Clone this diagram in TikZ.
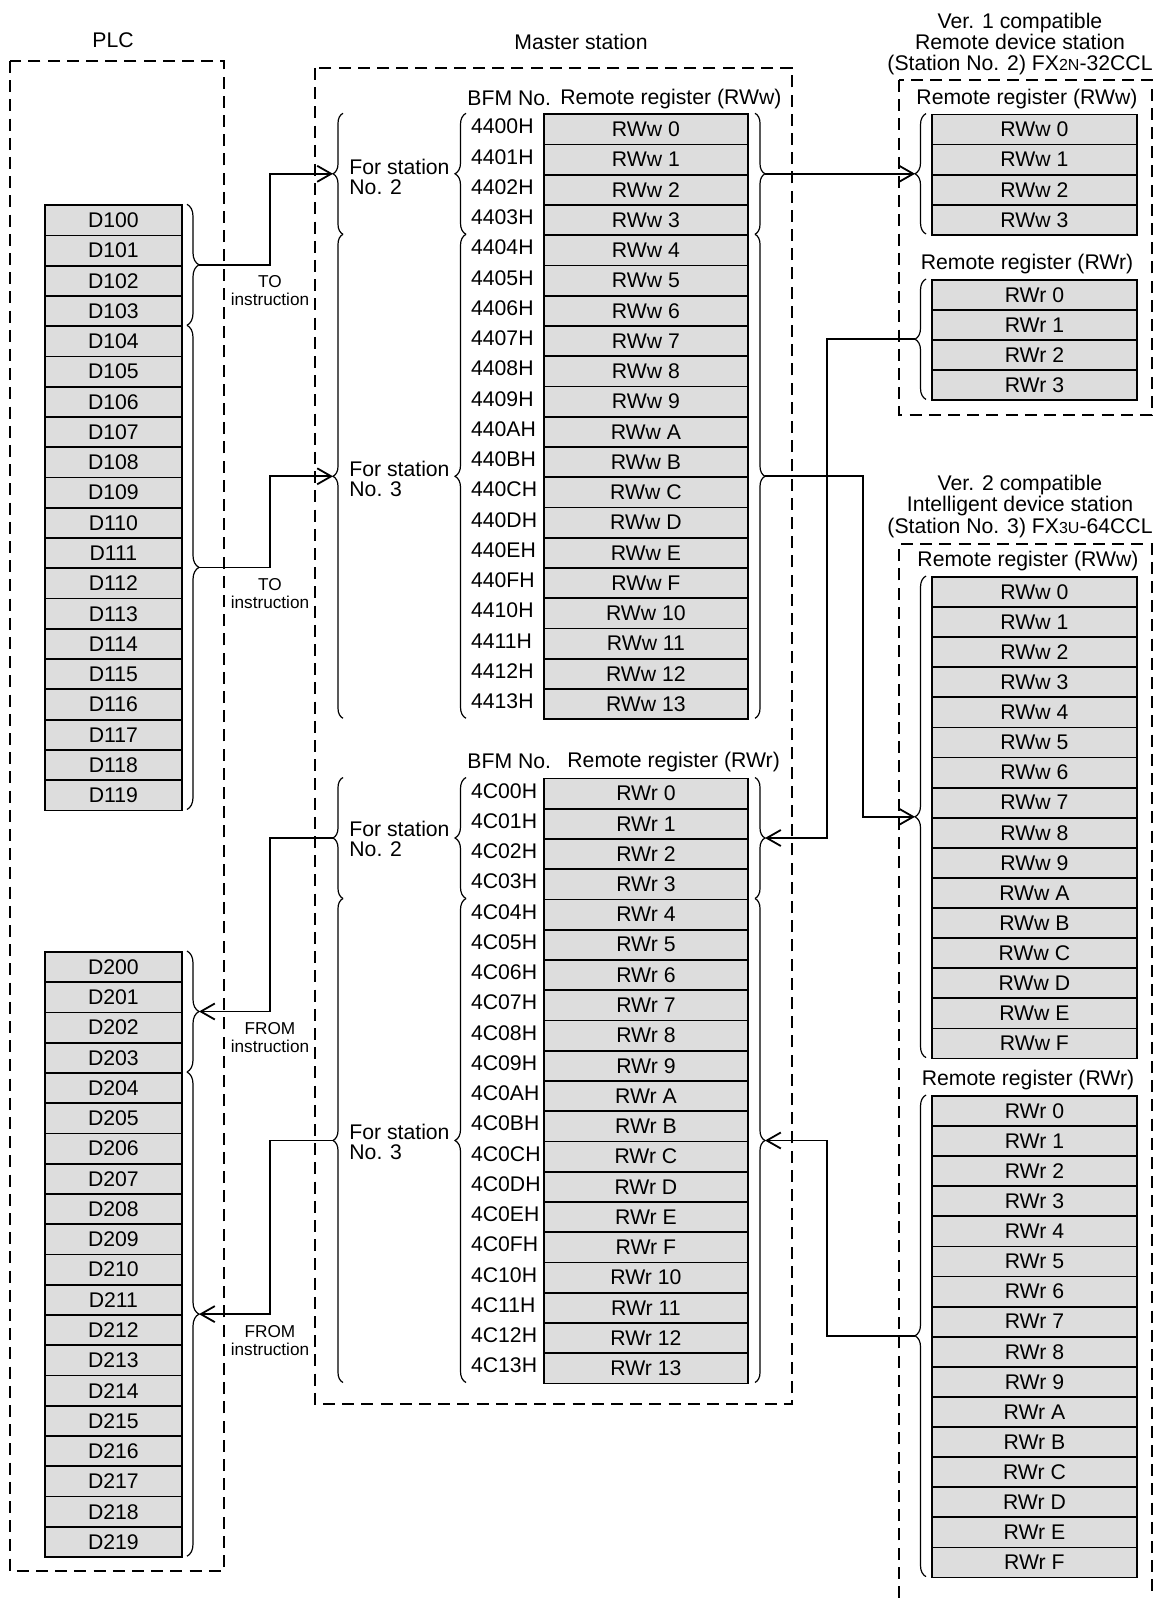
\documentclass[tikz,border=0pt]{standalone}
\usepackage{fontspec}
\setmainfont{Liberation Sans}
\usetikzlibrary{arrows.meta, positioning, calc, decorations.pathreplacing}
\definecolor{CellGray}{RGB}{221,221,221}

\begin{document}
\begin{tikzpicture}[
    x=0.5pt, y=-0.5pt,
    every node/.style={font=\fontsize{10.6}{10.4}\selectfont, inner sep=0pt},
    reg/.style={draw, line width=0.9pt, fill=CellGray, anchor=north west, minimum height=15.13pt},
    dreg/.style={reg, minimum width=68.5pt},
    mreg/.style={reg, minimum width=102pt},
    sreg/.style={reg, minimum width=102.5pt, minimum height=15.05pt},
    bfm/.style={anchor=west},
    note/.style={font=\fontsize{8.6}{9}\selectfont, align=center},
    stitle/.style={align=center, font=\fontsize{10.6}{10.7}\selectfont},
    zone/.style={dash pattern=on 6pt off 3.6pt, line width=0.8pt},
    brc/.style={decorate, decoration={brace, amplitude=#1}, line width=0.6pt},
    brc/.default=5pt,
    link/.style={line width=0.9pt, -{Straight Barb[length=7pt, width=8pt]}}
]
\useasboundingbox (0,0) rectangle (1156,1598);

% dashed outlines
\draw[zone] (10,61) rectangle (224,1571);
\draw[zone] (315,68) rectangle (792,1404);
\draw[zone] (899,80) rectangle (1152,415);
\draw[zone] (899,1598) -- (899,544) -- (1152,544) -- (1152,1598);

% titles
\node (plc) at (113,40) {PLC};
\node (master) at (581,42) {Master station};
\node[stitle] (ver1) at (1020,44) {Ver. 1 compatible\\Remote device station\\(Station No. 2) FX{\fontsize{8}{8}\selectfont 2N}-32CCL};
\node[stitle] (ver2) at (1020,506.5) {Ver. 2 compatible\\Intelligent device station\\(Station No. 3) FX{\fontsize{8}{8}\selectfont 3U}-64CCL};

% PLC data registers
\foreach \i in {0,...,19} {
  \pgfmathtruncatemacro\n{100+\i}
  \node[dreg] (d\n) at (44,{204.3+30.26*\i}) {D\n};
}
\foreach \i in {0,...,19} {
  \pgfmathtruncatemacro\n{200+\i}
  \node[dreg] (d\n) at (44,{951+30.26*\i}) {D\n};
}

% master station buffer memory
\node[bfm] (bfmw) at (467,98) {BFM No.};
\node[bfm] (hdrw) at (560,99) {Remote register (RWw)};
\foreach \h/\b [count=\i from 0] in {0/00,1/01,2/02,3/03,4/04,5/05,6/06,7/07,8/08,9/09,A/0A,B/0B,C/0C,D/0D,E/0E,F/0F,10/10,11/11,12/12,13/13} {
  \node[mreg] (mw\i) at (543,{113.3+30.25*\i}) {RWw \h};
  \node[bfm] (bw\i) at (470.7,{126.5+30.25*\i}) {44\b H};
}
\node[bfm] (bfmr) at (467,761) {BFM No.};
\node[bfm] (hdrr) at (567,762) {Remote register (RWr)};
\foreach \h/\b [count=\i from 0] in {0/00,1/01,2/02,3/03,4/04,5/05,6/06,7/07,8/08,9/09,A/0A,B/0B,C/0C,D/0D,E/0E,F/0F,10/10,11/11,12/12,13/13} {
  \node[mreg] (mr\i) at (543,{777.5+30.25*\i}) {RWr \h};
  \node[bfm] (br\i) at (470.7,{790.7+30.25*\i}) {4C\b H};
}
\node[bfm, align=left] (st2w) at (349,177) {For station\\No. 2};
\node[bfm, align=left] (st3w) at (349,479) {For station\\No. 3};
\node[bfm, align=left] (st2r) at (349,839) {For station\\No. 2};
\node[bfm, align=left] (st3r) at (349,1142) {For station\\No. 3};

% remote stations
\node (v1hw) at (1027,99) {Remote register (RWw)};
\foreach \h in {0,...,3}
  \node[sreg] (aw\h) at (931,{113.6+30.1*\h}) {RWw \h};
\node (v1hr) at (1027,264) {Remote register (RWr)};
\foreach \h in {0,...,3}
  \node[sreg] (ar\h) at (931,{279+30.1*\h}) {RWr \h};
\node (v2hw) at (1028,561) {Remote register (RWw)};
\foreach \h [count=\i from 0] in {0,1,2,3,4,5,6,7,8,9,A,B,C,D,E,F}
  \node[sreg] (bw\h) at (931,{576+30.1*\i}) {RWw \h};
\node (v2hr) at (1028,1080) {Remote register (RWr)};
\foreach \h [count=\i from 0] in {0,1,2,3,4,5,6,7,8,9,A,B,C,D,E,F}
  \node[sreg] (bR\h) at (931,{1095+30.1*\i}) {RWr \h};

% braces
\draw[brc=6pt] (187,204.3) -- (187,325.3);
\draw[brc=6pt] (187,325.3) -- (187,809.5);
\draw[brc=6pt] (187,951) -- (187,1072);
\draw[brc=6pt] (187,1072) -- (187,1556.2);
\draw[brc] (343,234.3) -- (343,113.3);
\draw[brc] (343,718.3) -- (343,234.3);
\draw[brc] (343,898.5) -- (343,777.5);
\draw[brc] (343,1382.5) -- (343,898.5);
\draw[brc=5.5pt] (466,234.3) -- (466,113.3);
\draw[brc=5.5pt] (466,718.3) -- (466,234.3);
\draw[brc=5.5pt] (466,898.5) -- (466,777.5);
\draw[brc=5.5pt] (466,1382.5) -- (466,898.5);
\draw[brc] (755,113.3) -- (755,234.3);
\draw[brc] (755,234.3) -- (755,718.3);
\draw[brc] (755,777.5) -- (755,898.5);
\draw[brc] (755,898.5) -- (755,1382.5);
\draw[brc=5.5pt] (926,234) -- (926,113.6);
\draw[brc=5.5pt] (926,399.4) -- (926,279);
\draw[brc=5.5pt] (926,1057.6) -- (926,576);
\draw[brc=5.5pt] (926,1576.6) -- (926,1095);

% brace tips
\coordinate (tD1) at (199,264.8);
\coordinate (tD2) at (199,567.4);
\coordinate (tD3) at (199,1011.5);
\coordinate (tD4) at (199,1314.1);
\coordinate (sw2) at (333,173.8);
\coordinate (sw3) at (333,476.3);
\coordinate (sr2) at (333,838);
\coordinate (sr3) at (333,1140.5);
\coordinate (rw2) at (765,173.8);
\coordinate (rw3) at (765,476.3);
\coordinate (rr2) at (765,838);
\coordinate (rr3) at (765,1140.5);
\coordinate (v1w) at (915,173.8);
\coordinate (v1r) at (915,339.2);
\coordinate (v2w) at (915,816.8);
\coordinate (v2r) at (915,1335.8);

% transfers
\draw[link] (tD1) -- ++(71,0) |- (sw2);
\draw[link] (tD2) -- ++(71,0) |- (sw3);
\draw[link] (sr2) -- ++(-63,0) |- (tD3);
\draw[link] (sr3) -- ++(-63,0) |- (tD4);
\draw[link] (rw2) -- (v1w);
\draw[link] (rw3) -- ++(98,0) |- (v2w);
\draw[link] (v1r) -- ++(-88,0) |- (rr2);
\draw[link] (v2r) -- ++(-88,0) |- (rr3);

\node[note] (to1) at ($(tD1)+(71,26)$) {TO\\instruction};
\node[note] (to2) at ($(tD2)+(71,26)$) {TO\\instruction};
\node[note] (from1) at ($(tD3)+(71,26)$) {FROM\\instruction};
\node[note] (from2) at ($(tD4)+(71,26)$) {FROM\\instruction};
\end{tikzpicture}
\end{document}
